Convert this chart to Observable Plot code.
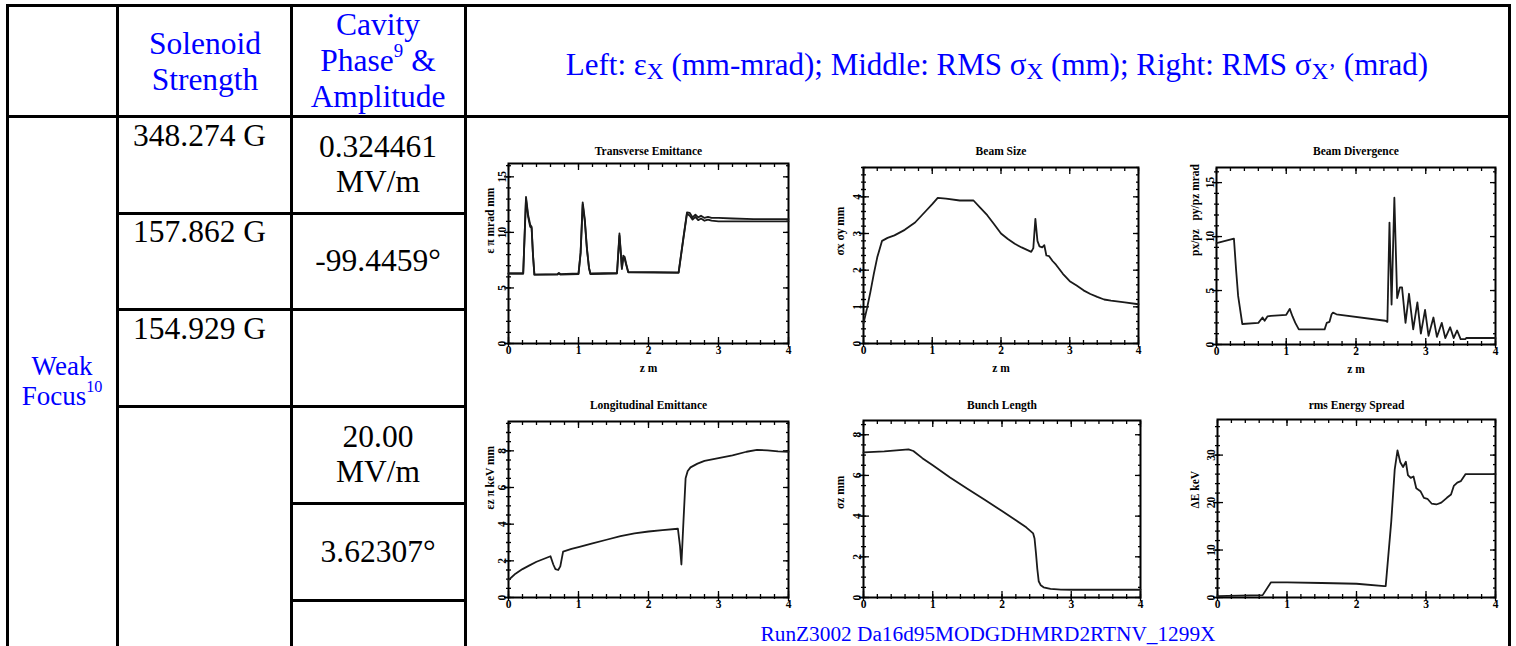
<!DOCTYPE html>
<html><head><meta charset="utf-8">
<script src="https://cdn.jsdelivr.net/npm/d3@7"></script>
<script src="https://cdn.jsdelivr.net/npm/@observablehq/plot@0.6"></script>
<style>
body{margin:0;background:#fff;font-family:'Liberation Serif',serif;}
#wrap{position:relative;width:1516px;height:646px;overflow:hidden;background:#fff;}
.ln{position:absolute;background:#000;}
.t{position:absolute;white-space:nowrap;line-height:1;font-family:'Liberation Serif',serif;}
.blue{color:#0000ff;}
.blk{color:#000;}
sup{font-size:60%;vertical-align:0.75em;line-height:0;}
sub{font-size:75%;vertical-align:-0.2em;line-height:0;}
</style></head><body><div id="wrap"></div>
<script>
// ---------- table content ----------
const headerSolenoid = ["Solenoid", "Strength"];
const headerCavity = ["Cavity", "Phase<sup>9</sup> &amp;", "Amplitude"];
const headerPlots = "Left: ε<sub>X</sub> (mm-mrad); Middle: RMS σ<sub>X</sub> (mm); Right: RMS σ<sub>X’</sub> (mrad)";
const solenoidValues = ["348.274 G", "157.862 G", "154.929 G"];
const cavityValues = [["0.324461", "MV/m"], ["-99.4459°"], [], ["20.00", "MV/m"], ["3.62307°"], []];
const rowLabel = ["Weak", "Focus<sup>10</sup>"];
const runCaption = "RunZ3002 Da16d95MODGDHMRD2RTNV_1299X";

// ---------- plot data ----------
const xMajor = [0, 1, 2, 3, 4];

// Transverse Emittance
const teZ  = [0, 0.21, 0.25, 0.28, 0.31, 0.33, 0.35, 0.37, 0.7, 0.72, 0.74, 1.0, 1.03, 1.06, 1.09, 1.12, 1.15, 1.17, 1.55, 1.585, 1.6, 1.62, 1.64, 1.66, 1.68, 1.71, 2.43, 2.5, 2.55, 2.59, 2.63, 2.67, 2.71, 2.75, 2.8, 2.85, 2.9, 3.0, 3.2, 3.5, 4.0];
const teEx = [6.3, 6.3, 13.2, 11.6, 10.7, 10.5, 8.0, 6.2, 6.25, 6.35, 6.25, 6.3, 8.2, 12.7, 11.2, 8.6, 6.8, 6.3, 6.35, 9.9, 8.6, 6.8, 7.9, 7.8, 7.2, 6.45, 6.4, 9.6, 11.8, 11.75, 11.35, 11.6, 11.35, 11.5, 11.3, 11.4, 11.3, 11.3, 11.25, 11.2, 11.2];
const teEy = [6.3, 6.3, 13.0, 11.4, 10.5, 10.4, 7.9, 6.2, 6.2, 6.3, 6.2, 6.25, 8.1, 12.5, 11.0, 8.5, 6.8, 6.25, 6.3, 9.7, 8.5, 6.7, 7.7, 7.6, 7.1, 6.4, 6.35, 9.5, 11.7, 11.5, 11.15, 11.4, 11.1, 11.25, 11.05, 11.15, 11.05, 11.0, 11.0, 11.0, 11.0];
const teYMajor = [0, 5, 10, 15];

// Beam Size
const bsZ = [0, 0.05, 0.1, 0.15, 0.2, 0.27, 0.35, 0.45, 0.6, 0.75, 0.9, 1.0, 1.08, 1.2, 1.4, 1.6, 1.7, 1.8, 1.9, 2.0, 2.1, 2.2, 2.3, 2.44, 2.47, 2.5, 2.53, 2.56, 2.6, 2.63, 2.66, 2.7, 2.75, 2.8, 2.9, 3.0, 3.1, 3.2, 3.3, 3.4, 3.5, 3.6, 3.8, 4.0];
const bsS = [0.55, 0.95, 1.4, 1.9, 2.35, 2.8, 2.88, 2.95, 3.1, 3.3, 3.6, 3.8, 3.97, 3.95, 3.9, 3.9, 3.7, 3.5, 3.25, 3.0, 2.85, 2.72, 2.62, 2.5, 2.6, 3.4, 2.8, 2.65, 2.62, 2.68, 2.4, 2.38, 2.25, 2.15, 1.9, 1.7, 1.58, 1.45, 1.35, 1.27, 1.2, 1.17, 1.12, 1.07];
const bsYMajor = [0, 1, 2, 3, 4];

// Beam Divergence
const bdZ = [0, 0.25, 0.28, 0.31, 0.37, 0.6, 0.66, 0.69, 0.73, 0.78, 1.0, 1.05, 1.09, 1.13, 1.18, 1.55, 1.58, 1.62, 1.65, 1.67, 1.72, 2.42, 2.45, 2.48, 2.51, 2.55, 2.59, 2.63, 2.66, 2.71, 2.76, 2.82, 2.88, 2.93, 2.99, 3.04, 3.11, 3.16, 3.23, 3.28, 3.35, 3.4, 3.45, 3.5, 3.57, 3.58, 4.0];
const bdS = [9.4, 9.8, 7.0, 4.5, 1.9, 2.0, 2.5, 2.2, 2.6, 2.65, 2.75, 3.3, 2.6, 2.0, 1.4, 1.4, 2.0, 2.1, 2.8, 2.95, 2.8, 2.2, 2.1, 11.3, 3.7, 13.6, 4.3, 5.3, 5.3, 2.0, 4.7, 1.4, 3.9, 1.0, 3.2, 0.8, 2.5, 0.7, 2.0, 0.6, 1.6, 0.6, 1.3, 0.5, 0.5, 0.6, 0.6];
const bdYMajor = [0, 5, 10, 15];

// Longitudinal Emittance
const leZ = [0, 0.1, 0.2, 0.3, 0.4, 0.5, 0.6, 0.64, 0.67, 0.71, 0.74, 0.78, 0.9, 1.0, 1.2, 1.4, 1.6, 1.8, 2.0, 2.2, 2.42, 2.45, 2.47, 2.5, 2.53, 2.56, 2.6, 2.7, 2.8, 3.0, 3.2, 3.4, 3.55, 3.7, 3.85, 4.0];
const leE = [0.95, 1.3, 1.55, 1.75, 1.95, 2.1, 2.25, 1.8, 1.55, 1.5, 1.7, 2.5, 2.65, 2.75, 2.95, 3.15, 3.35, 3.5, 3.6, 3.68, 3.75, 2.8, 1.8, 4.2, 6.5, 6.9, 7.1, 7.3, 7.45, 7.6, 7.75, 7.95, 8.05, 8.03, 7.97, 7.95];
const leYMajor = [0, 2, 4, 6, 8];

// Bunch Length
const blZ = [0, 0.3, 0.65, 0.72, 0.85, 1.0, 1.25, 1.5, 1.75, 2.0, 2.2, 2.35, 2.45, 2.47, 2.49, 2.51, 2.53, 2.56, 2.6, 2.7, 2.85, 3.0, 3.5, 4.0];
const blL = [7.13, 7.18, 7.28, 7.2, 6.85, 6.5, 5.9, 5.35, 4.8, 4.25, 3.8, 3.45, 3.15, 2.9, 2.2, 1.4, 0.8, 0.6, 0.5, 0.42, 0.39, 0.38, 0.38, 0.38];
const blYMajor = [0, 2, 4, 6, 8];

// rms Energy Spread
const esZ = [0, 0.3, 0.65, 0.77, 1.0, 1.5, 2.0, 2.4, 2.42, 2.5, 2.55, 2.59, 2.63, 2.67, 2.71, 2.74, 2.78, 2.82, 2.86, 2.92, 2.97, 3.02, 3.08, 3.15, 3.22, 3.3, 3.36, 3.4, 3.45, 3.5, 3.57, 4.0];
const esS = [0.3, 0.4, 0.5, 3.2, 3.2, 3.05, 2.9, 2.4, 2.4, 16, 27, 31, 28.5, 27.5, 28.6, 25.8, 25.2, 25.5, 23, 22.4, 21, 20.8, 19.8, 19.6, 20.0, 21.0, 21.7, 23.5, 24.2, 24.5, 26.0, 26.0];
const esYMajor = [0, 10, 20, 30];

// ---------- layout ----------
const SERIF = "'Liberation Serif', 'Times New Roman', serif";
const wrap = document.getElementById("wrap");
function line(x, y, w, h) {
  const d = document.createElement("div"); d.className = "ln";
  Object.assign(d.style, {left: x + "px", top: y + "px", width: w + "px", height: h + "px"});
  wrap.appendChild(d);
}
function txt(html, x, y, size, cls, align) {
  const d = document.createElement("div"); d.className = "t " + cls;
  d.innerHTML = html;
  d.style.fontFamily = SERIF;
  d.style.fontSize = size + "px";
  d.style.left = x + "px"; d.style.top = y + "px";
  d.style.transform = align === "left" ? "translate(0,-50%)" : "translate(-50%,-50%)";
  wrap.appendChild(d);
}
const LW = 3;
const vx = [7, 117, 291, 465, 1509];
const hTop = 5, hHead = 116;
vx.forEach(x => line(x - LW/2, hTop - LW/2, LW, 700));
line(vx[0] - LW/2, hTop - LW/2, vx[4] - vx[0] + LW, LW);
line(vx[0] - LW/2, hHead - LW/2, vx[4] - vx[0] + LW, LW);
[213, 309, 406].forEach(y => line(vx[1] - LW/2, y - LW/2, vx[3] - vx[1] + LW, LW));
[503, 600].forEach(y => line(vx[2] - LW/2, y - LW/2, vx[3] - vx[2] + LW, LW));

const BF = 31.5, KF = 31.5;
txt(headerSolenoid[0], 205, 44, BF, "blue");
txt(headerSolenoid[1], 205, 80, BF, "blue");
txt(headerCavity[0], 378, 25, BF, "blue");
txt(headerCavity[1], 378, 61, BF, "blue");
txt(headerCavity[2], 378, 97, BF, "blue");
txt(headerPlots, 997, 64, 31, "blue");
txt(rowLabel[0], 62, 366, 27, "blue");
txt(rowLabel[1], 62, 396, 27, "blue");
[136, 232, 329].forEach((y, i) => txt(solenoidValues[i], 133, y, KF, "blk", "left"));
const cavCenters = [164.5, 261, 357.5, 454.5, 551.5, 620];
cavityValues.forEach((lines, i) => {
  const n = lines.length;
  lines.forEach((s, j) => txt(s, 378, cavCenters[i] + (j - (n - 1) / 2) * 35, KF, "blk"));
});
txt(runCaption, 988, 635, 21.3, "blue");

// ---------- plots ----------
function makePlot(spec) {
  const [fl, ft, fr, fb] = spec.frame;
  const mL = 50, mT = 32, mR = 12, mB = 40;
  const W = fr - fl, H = fb - ft;
  const series = spec.series.map(s => s.z.map((z, i) => ({z, v: s.v[i]})));
  const yMinor = d3.range(0, spec.yMax + 1e-9, spec.yMinorStep);
  const xMinor = d3.range(0, 4 + 1e-9, 0.2);
  const blank = () => "";
  const tf = {fontSize: 11.5, fontWeight: "bold", fontFamily: SERIF};
  const tk = {strokeWidth: 1.3};
  const marks = [
    Plot.axisX(xMinor, {anchor: "bottom", tickSize: -3, tickFormat: blank, label: null, ...tk}),
    Plot.axisX(xMinor, {anchor: "bottom", tickSize: 2, tickFormat: blank, label: null, ...tk}),
    Plot.axisX(xMinor, {anchor: "top", tickSize: -3, tickFormat: blank, label: null, ...tk}),
    Plot.axisY(yMinor, {anchor: "left", tickSize: -3, tickFormat: blank, label: null, ...tk}),
    Plot.axisY(yMinor, {anchor: "left", tickSize: 2, tickFormat: blank, label: null, ...tk}),
    Plot.axisY(yMinor, {anchor: "right", tickSize: -3, tickFormat: blank, label: null, ...tk}),
    Plot.axisX(xMajor, {anchor: "bottom", tickSize: -6, tickFormat: blank, label: null, ...tk}),
    Plot.axisX(xMajor, {anchor: "bottom", tickSize: 4, tickFormat: blank, label: null, ...tk}),
    Plot.axisX(xMajor, {anchor: "top", tickSize: -6, tickFormat: blank, label: null, ...tk}),
    Plot.axisY(spec.yMajor, {anchor: "left", tickSize: -6, tickFormat: blank, label: null, ...tk}),
    Plot.axisY(spec.yMajor, {anchor: "left", tickSize: 4, tickFormat: blank, label: null, ...tk}),
    Plot.axisY(spec.yMajor, {anchor: "right", tickSize: -6, tickFormat: blank, label: null, ...tk}),
    Plot.axisX(xMajor, {anchor: "bottom", tickSize: 0, tickPadding: 2, label: null, ...tf}),
    Plot.axisY(spec.yMajor, {anchor: "left", tickSize: 0, tickPadding: 3, tickRotate: -90, label: null, ...tf}),
    Plot.frame({stroke: "#000", strokeWidth: 2}),
    ...series.map(d => Plot.line(d, {x: "z", y: "v", stroke: "#1a1a1a", strokeWidth: 1.8})),
    Plot.text([spec.title], {frameAnchor: "top", dy: spec.titleDy, fontSize: 11.5, fontWeight: "bold", fontFamily: SERIF}),
    Plot.text([spec.ylabel], {frameAnchor: "left", rotate: -90, dx: spec.ylabelDx, fontSize: 11.5, fontWeight: "bold", fontFamily: SERIF})
  ];
  if (spec.xlabel) marks.push(Plot.text([spec.xlabel], {frameAnchor: "bottom", dy: 28, fontSize: 11.5, fontWeight: "bold", fontFamily: SERIF}));
  const svg = Plot.plot({
    width: W + mL + mR, height: H + mT + mB,
    marginLeft: mL, marginTop: mT, marginRight: mR, marginBottom: mB,
    x: {domain: [0, 4]}, y: {domain: [0, spec.yMax]},
    style: {background: "transparent", overflow: "visible"},
    marks
  });
  svg.style.position = "absolute";
  svg.style.left = (fl - mL) + "px";
  svg.style.top = (ft - mT) + "px";
  svg.style.maxWidth = "none";
  wrap.appendChild(svg);
}

makePlot({frame: [508, 163, 788, 343], yMax: 16.2, yMajor: teYMajor, yMinorStep: 1,
  series: [{z: teZ, v: teEx}, {z: teZ, v: teEy}], title: "Transverse Emittance", titleDy: -17,
  ylabel: "ε π mrad mm", ylabelDx: -18, xlabel: "z m"});
makePlot({frame: [863, 167, 1138, 343], yMax: 4.8, yMajor: bsYMajor, yMinorStep: 0.2,
  series: [{z: bsZ, v: bsS}], title: "Beam Size", titleDy: -21,
  ylabel: "σx σy mm", ylabelDx: -23, xlabel: "z m"});
makePlot({frame: [1216, 167, 1495, 344], yMax: 16.4, yMajor: bdYMajor, yMinorStep: 1,
  series: [{z: bdZ, v: bdS}], title: "Beam Divergence", titleDy: -21,
  ylabel: "px/pz   py/pz mrad", ylabelDx: -21, xlabel: "z m"});
makePlot({frame: [508, 421, 788, 597], yMax: 9.6, yMajor: leYMajor, yMinorStep: 0.5,
  series: [{z: leZ, v: leE}], title: "Longitudinal Emittance", titleDy: -21,
  ylabel: "εz π keV mm", ylabelDx: -18});
makePlot({frame: [863, 420, 1140, 597], yMax: 8.7, yMajor: blYMajor, yMinorStep: 0.5,
  series: [{z: blZ, v: blL}], title: "Bunch Length", titleDy: -20,
  ylabel: "σz mm", ylabelDx: -23});
makePlot({frame: [1217, 419, 1495, 597], yMax: 37.5, yMajor: esYMajor, yMinorStep: 2,
  series: [{z: esZ, v: esS}], title: "rms Energy Spread", titleDy: -19,
  ylabel: "ΔE keV", ylabelDx: -22});
</script></body></html>
